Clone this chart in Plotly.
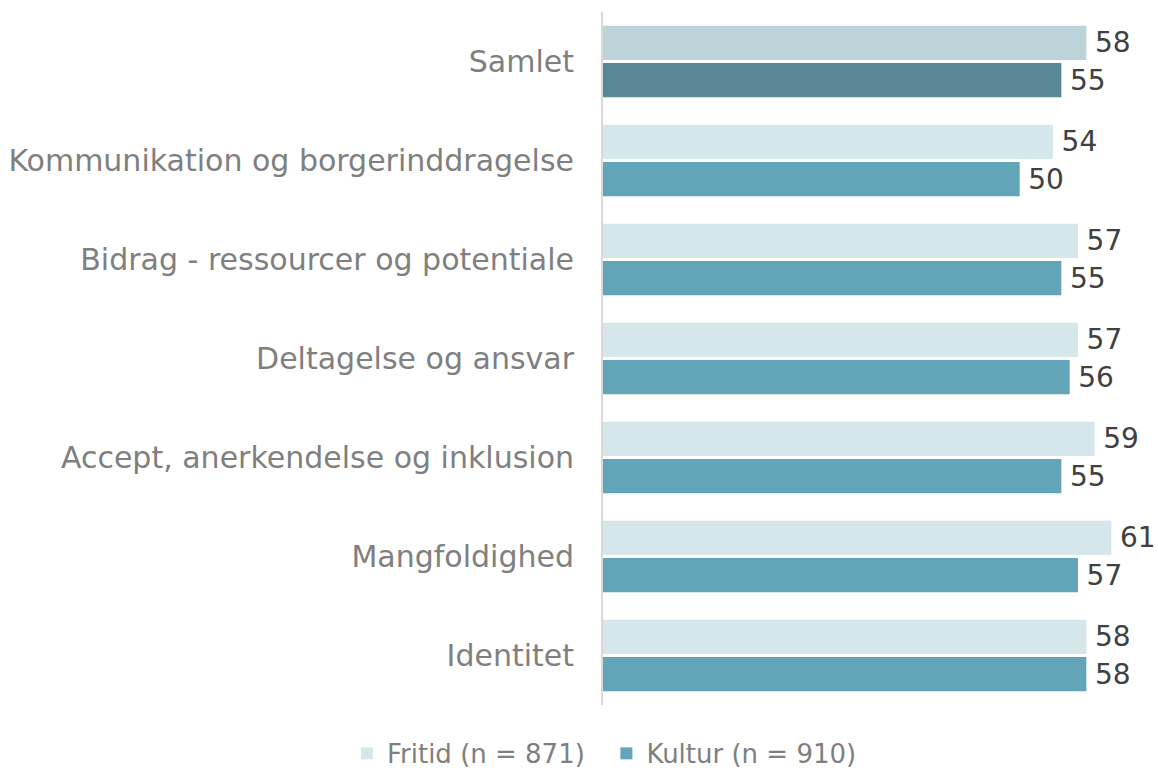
import plotly.graph_objects as go

categories = ["Samlet", "Kommunikation og borgerinddragelse", "Bidrag - ressourcer og potentiale",
              "Deltagelse og ansvar", "Accept, anerkendelse og inklusion", "Mangfoldighed", "Identitet"]
fritid = [58, 54, 57, 57, 59, 61, 58]
kultur = [55, 50, 55, 56, 55, 57, 58]
series_names = ["Fritid (n = 871)", "Kultur (n = 910)"]

fritid_colors = ["#BBD3D9"] + ["#D6E7EC"] * 6
kultur_colors = ["#588796"] + ["#62A4B8"] * 6
legend_colors = ["#D6E7EC", "#62A4B8"]

FONT = "DejaVu Sans"

fig = go.Figure()
for vals, cols, name, grp in [(fritid, fritid_colors, series_names[0], "a"),
                              (kultur, kultur_colors, series_names[1], "b")]:
    fig.add_trace(go.Bar(
        y=categories, x=vals, orientation="h", name=name, showlegend=False,
        offsetgroup=grp,
        marker=dict(color=cols, line=dict(width=0)),
        text=[f"\u2009{v}" for v in vals], textposition="outside", cliponaxis=False,
        constraintext="none",
        textfont=dict(color="#404040", size=28, family=FONT),
    ))
# legend entries with the regular series colours
legend_labels = [series_names[0] + "  ", series_names[1]]
for name, col, grp in zip(legend_labels, legend_colors, ["a", "b"]):
    fig.add_trace(go.Bar(
        y=[None], x=[None], orientation="h", name=name, showlegend=True,
        offsetgroup=grp,
        marker=dict(color=col, line=dict(width=0)),
    ))

fig.update_layout(
    width=1158, height=773,
    margin=dict(l=603, r=5, t=12, b=68, autoexpand=False),
    paper_bgcolor="white", plot_bgcolor="white",
    barmode="group", bargap=0.25, bargroupgap=0.08,
    font=dict(family=FONT, color="#7f7f7f", size=26),
    showlegend=True,
    legend=dict(orientation="h", x=0.522, xanchor="center", xref="container",
                y=-0.036, yanchor="top",
                font=dict(size=26, color="#7f7f7f", family=FONT),
                traceorder="normal"),
    xaxis=dict(range=[0, 66], showgrid=False, showticklabels=False, zeroline=False,
               showline=False, fixedrange=True, automargin=False),
    yaxis=dict(autorange="reversed", showgrid=False, showline=True, linecolor="#d9d9d9",
               linewidth=2, ticks="", ticklabelstandoff=21, automargin=False,
               fixedrange=True, tickfont=dict(size=30, color="#7f7f7f", family=FONT)),
)
fig.write_html("out.html", config={"displayModeBar": False},
               post_script="document.body.style.margin='0px';document.body.style.overflow='hidden';")
